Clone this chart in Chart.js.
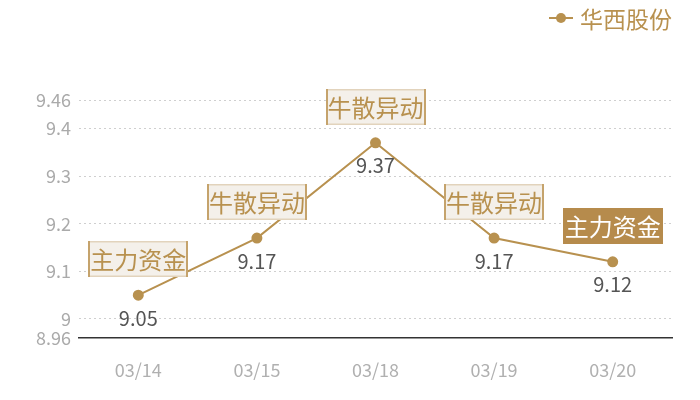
<!DOCTYPE html>
<html>
<head>
<meta charset="utf-8">
<script src="https://cdn.jsdelivr.net/npm/chart.js@4"></script>
<style>
  html, body { margin: 0; padding: 0; background: #fff; }
</style>
</head>
<body>
<canvas id="chart" width="700" height="400"></canvas>
<script>
// data
const categories = ['03/14', '03/15', '03/18', '03/19', '03/20'];
const prices = [9.05, 9.17, 9.37, 9.17, 9.12];
const yTicks = [8.96, 9, 9.1, 9.2, 9.3, 9.4, 9.46];
const notes = ['主力资金', '牛散异动', '牛散异动', '牛散异动', '主力资金'];
const seriesName = '华西股份';
const highlightIndex = 4;

const gold = '#b8914f';
const font = '"Noto Sans CJK SC", "Noto Sans", sans-serif';

const labelsPlugin = {
  id: 'labels',
  afterDatasetsDraw(chart) {
    const ctx = chart.ctx;
    const meta = chart.getDatasetMeta(0);
    ctx.save();
    meta.data.forEach((pt, i) => {
      // value under the point
      ctx.font = '20px ' + font;
      ctx.fillStyle = '#555';
      ctx.textAlign = 'center';
      ctx.textBaseline = 'middle';
      ctx.fillText(String(prices[i]), pt.x, pt.y + 23);

      // note box above the point
      const w = 100, h = 36;
      const left = Math.round(pt.x - w / 2);
      const top = Math.round(pt.y - 18 - h);
      if (i === highlightIndex) {
        ctx.fillStyle = '#b68b4c';
        ctx.fillRect(left, top, w, h);
        ctx.fillStyle = '#fff';
      } else {
        ctx.fillStyle = '#f4f0ea';
        ctx.fillRect(left, top, w, h);
        ctx.fillStyle = '#e2d3bc';
        ctx.fillRect(left, top, w, 1.5);
        ctx.fillRect(left, top + h - 1.5, w, 1.5);
        ctx.fillStyle = '#c5a36c';
        ctx.fillRect(left, top, 2, h);
        ctx.fillRect(left + w - 2, top, 2, h);
        ctx.fillStyle = gold;
      }
      ctx.font = '24px ' + font;
      ctx.fillText(notes[i], pt.x, top + h / 2 + 1);
    });

    // legend top right
    const ly = 18;
    ctx.strokeStyle = gold;
    ctx.lineWidth = 2;
    ctx.beginPath();
    ctx.moveTo(549, ly);
    ctx.lineTo(573, ly);
    ctx.stroke();
    ctx.fillStyle = gold;
    ctx.beginPath();
    ctx.arc(561, ly, 5, 0, Math.PI * 2);
    ctx.fill();
    ctx.font = '23px ' + font;
    ctx.textAlign = 'left';
    ctx.fillText(seriesName, 580, ly + 1);
    ctx.restore();
  }
};

new Chart(document.getElementById('chart'), {
  type: 'line',
  data: {
    labels: categories,
    datasets: [{
      label: seriesName,
      data: prices,
      borderColor: gold,
      backgroundColor: gold,
      borderWidth: 2,
      pointRadius: 4.5,
      pointHoverRadius: 4.5,
      tension: 0
    }]
  },
  options: {
    responsive: false,
    animation: false,
    devicePixelRatio: 1,
    layout: { padding: { top: 100, right: 28, left: 0, bottom: 0 } },
    plugins: {
      legend: { display: false },
      tooltip: { enabled: false }
    },
    scales: {
      x: {
        offset: true,
        grid: { display: false, drawTicks: false },
        border: { display: true, color: '#333', width: 1.5 },
        ticks: { color: '#b0b0b0', font: { size: 18, family: font }, padding: 21 },
        afterFit(scale) { scale.height = 62; }
      },
      y: {
        min: 8.96,
        max: 9.46,
        afterBuildTicks(scale) { scale.ticks = yTicks.map(v => ({ value: v })); },
        grid: {
          drawTicks: false,
          color: c => (c.tick && c.tick.value === 8.96 ? 'transparent' : '#cfcfcf'),
          lineWidth: 1
        },
        border: { display: false, dash: [2, 3] },
        ticks: {
          color: '#aaa',
          font: { size: 18, family: font },
          padding: 8,
          callback: v => String(v)
        },
        afterFit(scale) { scale.width = 79; }
      }
    }
  },
  plugins: [labelsPlugin]
});
</script>
</body>
</html>
